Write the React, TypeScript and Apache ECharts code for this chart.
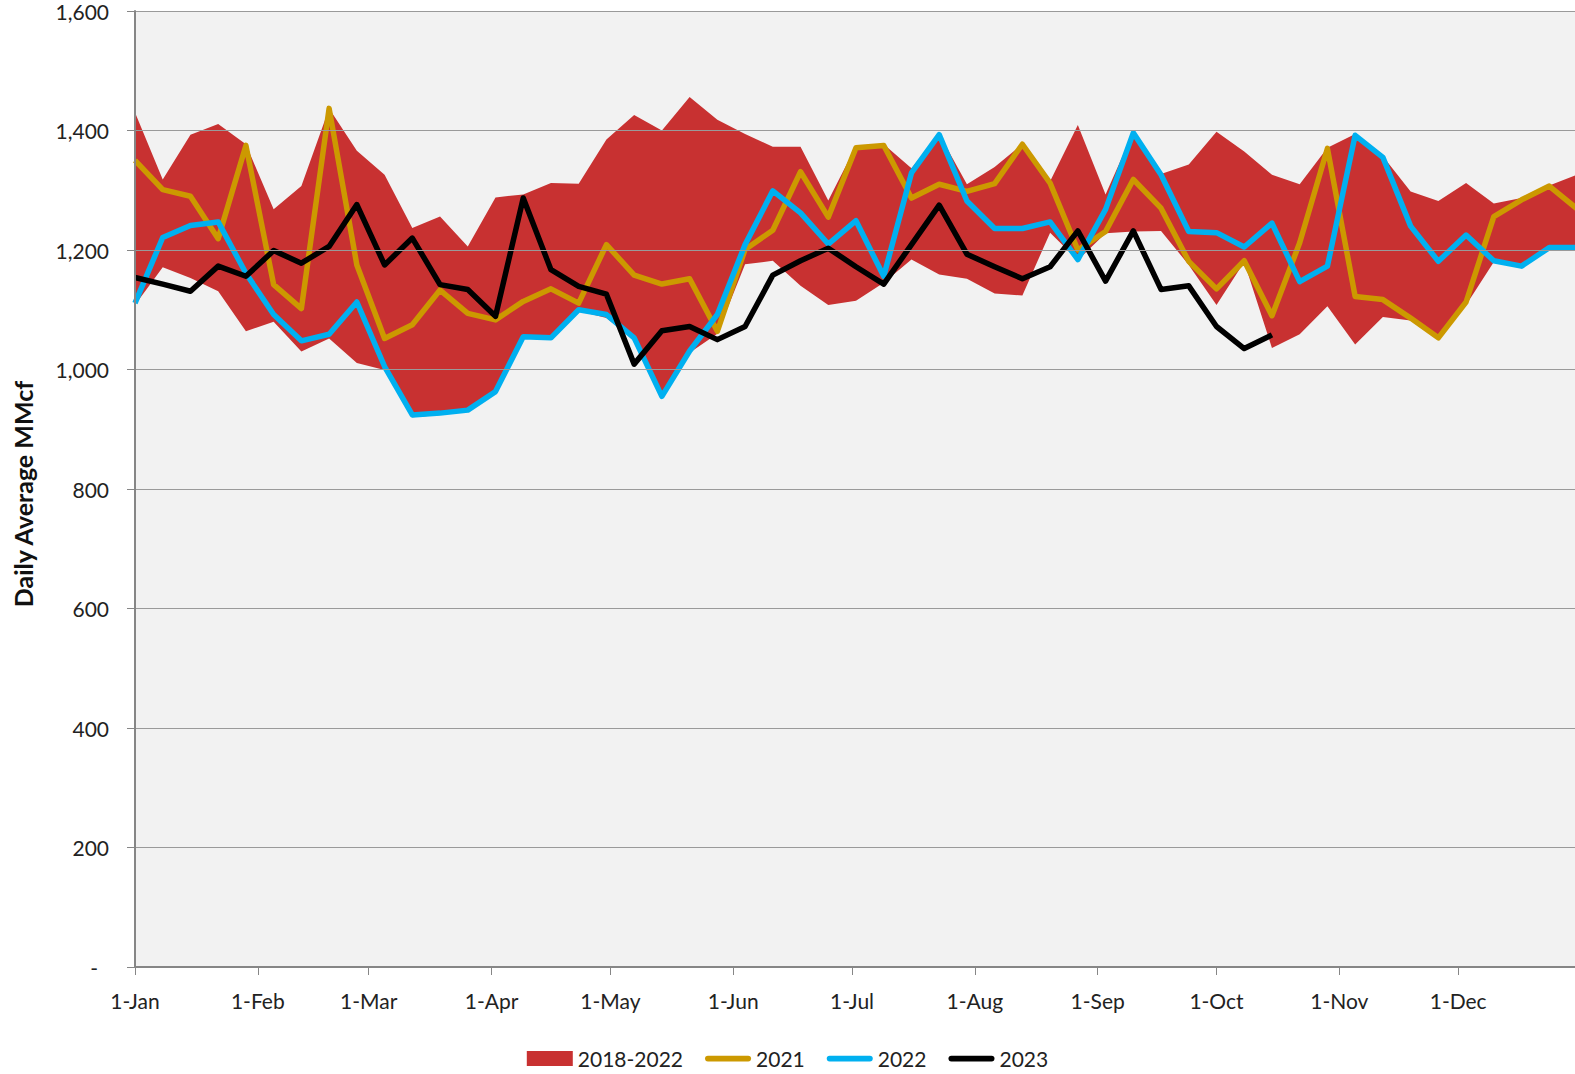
import React, { useEffect, useRef } from "react";
import * as echarts from "echarts";

// weekly points (53 weeks from 1-Jan); category index i = day 7*i
const weekDays: number[] = Array.from({ length: 53 }, (_, i) => i * 7);

const monthStarts = [0, 31, 59, 90, 120, 151, 181, 212, 243, 273, 304, 334];
const monthLabels = ["1-Jan", "1-Feb", "1-Mar", "1-Apr", "1-May", "1-Jun", "1-Jul", "1-Aug", "1-Sep", "1-Oct", "1-Nov", "1-Dec"];

const yTicks = [0, 200, 400, 600, 800, 1000, 1200, 1400, 1600];

// 2018-2022 range
const rangeHigh = [
  1430, 1318, 1393, 1411, 1377, 1268, 1307, 1437, 1366, 1326,
  1237, 1256, 1206, 1288, 1293, 1312, 1311, 1385, 1426, 1400,
  1456, 1418, 1394, 1373, 1373, 1283, 1374, 1377, 1337, 1394,
  1310, 1339, 1377, 1315, 1409, 1293, 1398, 1327, 1343, 1398,
  1365, 1326, 1310, 1371, 1394, 1357, 1298, 1282, 1312, 1278,
  1287, 1308, 1326,
];
const rangeLow = [
  1108, 1171, 1153, 1131, 1064, 1080, 1030, 1052, 1011, 999,
  920, 924, 930, 960, 1052, 1050, 1098, 1086, 1050, 952,
  1028, 1060, 1176, 1182, 1140, 1108, 1115, 1145, 1184, 1159,
  1152, 1127, 1124, 1229, 1183, 1228, 1231, 1232, 1175, 1108,
  1180, 1036, 1059, 1106, 1042, 1088, 1082, 1050, 1108, 1180,
  1170, 1200, 1200,
];
const y2021 = [
  1350, 1301, 1290, 1219, 1375, 1142, 1102, 1437, 1175, 1052,
  1075, 1133, 1094, 1083, 1114, 1135, 1111, 1209, 1158, 1143,
  1152, 1064, 1201, 1233, 1331, 1255, 1371, 1375, 1287, 1310,
  1298, 1311, 1377, 1312, 1200, 1231, 1318, 1270, 1181, 1135,
  1182, 1090, 1212, 1370, 1122, 1117, 1086, 1053, 1113, 1256,
  1284, 1307, 1269,
];
const y2022 = [
  1111, 1221, 1241, 1247, 1161, 1092, 1048, 1059, 1113, 1005,
  924, 927, 932, 963, 1055, 1053, 1100, 1092, 1053, 955,
  1031, 1092, 1209, 1299, 1262, 1210, 1249, 1156, 1329, 1393,
  1282, 1236, 1236, 1247, 1184, 1268, 1396, 1326, 1231, 1229,
  1205, 1245, 1147, 1173, 1392, 1355, 1240, 1181, 1225, 1182,
  1173, 1204, 1204,
];
const y2023 = [
  1154, 1143, 1131, 1173, 1156, 1199, 1178, 1206, 1276, 1175,
  1220, 1142, 1134, 1089, 1287, 1167, 1139, 1126, 1009, 1065,
  1072, 1050, 1072, 1158, 1182, 1203, 1172, 1143, 1209, 1275,
  1193, 1172, 1152, 1172, 1232, 1148, 1232, 1134, 1140, 1072,
  1035, 1058,
];

const FONT = "Lato, 'Liberation Sans', sans-serif";
const RED = "#C83131";
const GOLD = "#CC9900";
const BLUE = "#00B0F0";
const LINE_ICON = "path://M3,0 L45,0 A3,3 0 0 1 45,6 L3,6 A3,3 0 0 1 3,0 Z";

export default function App() {
  const ref = useRef<HTMLDivElement>(null);
  useEffect(() => {
    if (!ref.current) return;
    const chart = echarts.init(ref.current, null, { renderer: "svg" });
    const bandDiff = rangeHigh.map((h, i) => h - rangeLow[i]);
    const lineSeries = (name: string, data: number[], color: string, z: number) => ({
      name,
      type: "line",
      xAxisIndex: 1,
      data,
      symbol: "none",
      itemStyle: { color },
      lineStyle: { color, width: 5.5, join: "round" },
      z,
    });
    chart.setOption({
      animation: false,
      backgroundColor: "#ffffff",
      textStyle: { fontFamily: FONT },
      grid: {
        left: 135,
        top: 11,
        width: 1442,
        height: 956,
        show: true,
        backgroundColor: "#F2F2F2",
        borderWidth: 0,
        containLabel: false,
        outerBoundsMode: "none",
      },
      legend: {
        left: "center",
        top: 1043,
        itemWidth: 46,
        itemHeight: 15,
        itemGap: 22,
        textStyle: { fontFamily: FONT, fontSize: 21, color: "#222" },
        data: [
          { name: "2018-2022", icon: "rect", itemStyle: { color: RED } },
          { name: "2021", icon: LINE_ICON, itemStyle: { color: GOLD } },
          { name: "2022", icon: LINE_ICON, itemStyle: { color: BLUE } },
          { name: "2023", icon: LINE_ICON, itemStyle: { color: "#000" } },
        ],
      },
      xAxis: [
        {
          type: "value",
          min: 0,
          max: weekDays[weekDays.length - 1],
          splitLine: { show: false },
          axisLine: { show: true, onZero: false, lineStyle: { color: "#868686", width: 2 } },
          axisTick: { show: true, length: 8, customValues: monthStarts, lineStyle: { color: "#868686", width: 1 } },
          axisLabel: {
            customValues: monthStarts,
            margin: 23,
            fontSize: 21,
            color: "#222",
            fontFamily: FONT,
            formatter: (v: number) => {
              const k = monthStarts.indexOf(Math.round(v));
              return k >= 0 ? monthLabels[k] : "";
            },
          },
          z: 10,
        },
        {
          type: "category",
          data: weekDays.map(String),
          boundaryGap: false,
          show: false,
        },
      ],
      yAxis: {
        type: "value",
        min: yTicks[0],
        max: yTicks[yTicks.length - 1],
        interval: 200,
        name: "Daily Average MMcf",
        nameLocation: "middle",
        nameGap: 100,
        nameRotate: 90,
        nameTextStyle: {
          fontFamily: FONT,
          fontSize: 25,
          fontWeight: "bold",
          color: "#111",
          padding: [0, 10, 0, 0],
        },
        axisLine: { show: true, lineStyle: { color: "#868686", width: 2 } },
        axisTick: { show: true, length: 8, lineStyle: { color: "#868686", width: 1 } },
        splitLine: { show: true, lineStyle: { color: "#9A9A9A", width: 1 } },
        axisLabel: {
          margin: 26,
          fontSize: 21,
          color: "#222",
          fontFamily: FONT,
          formatter: (v: number) => (v === 0 ? "{z|-}" : v.toLocaleString("en-US")),
          rich: { z: { fontSize: 21, color: "#222", fontFamily: FONT, padding: [0, 11, 0, 0] } },
        },
        z: 10,
      },
      series: [
        {
          name: "low",
          type: "line",
          xAxisIndex: 1,
          stack: "band",
          data: rangeLow,
          symbol: "none",
          silent: true,
          lineStyle: { width: 0, opacity: 0 },
          z: 1,
        },
        {
          name: "2018-2022",
          type: "line",
          xAxisIndex: 1,
          stack: "band",
          data: bandDiff,
          symbol: "none",
          silent: true,
          itemStyle: { color: RED },
          lineStyle: { width: 0, opacity: 0 },
          areaStyle: { color: RED, opacity: 1 },
          z: 2,
        },
        lineSeries("2021", y2021, GOLD, 3),
        lineSeries("2022", y2022, BLUE, 4),
        lineSeries("2023", y2023, "#000000", 5),
      ],
    });
    return () => chart.dispose();
  }, []);
  return (
    <div
      ref={ref}
      style={{ position: "fixed", left: 0, top: 0, width: 1575, height: 1074, background: "#fff" }}
    />
  );
}
